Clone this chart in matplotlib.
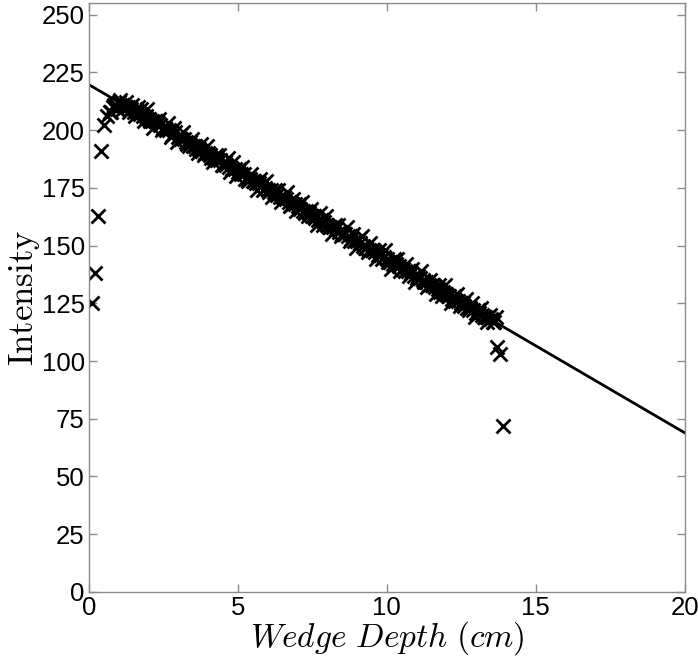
import numpy as np
import matplotlib
matplotlib.use("Agg")
import matplotlib.pyplot as plt

plt.rcParams["mathtext.fontset"] = "cm"
plt.rcParams["font.family"] = "Liberation Sans"

# two passes of measured intensity along the wedge, every 0.1 cm,
# the second pass offset by half a step
depth_start = 0.7
depth_step = 0.1
intensity_a = [
    208, 210, 211, 212, 211, 210, 210, 209, 208, 208,
    207, 206, 206, 205, 204, 204, 203, 202, 201, 200,
    200, 198, 199, 197, 196, 196, 194, 195, 193, 192,
    192, 191, 190, 190, 188, 188, 187, 187, 185, 185,
    184, 183, 183, 182, 181, 181, 179, 179, 178, 177,
    177, 176, 175, 174, 174, 173, 172, 171, 171, 170,
    169, 168, 168, 167, 166, 165, 165, 164, 163, 162,
    161, 161, 160, 159, 158, 158, 157, 156, 155, 155,
    154, 153, 152, 152, 151, 150, 149, 148, 148, 147,
    146, 146, 145, 144, 143, 142, 142, 141, 140, 139,
    139, 138, 137, 136, 136, 135, 134, 133, 133, 132,
    131, 130, 130, 129, 128, 127, 126, 126, 125, 124,
    123, 123, 122, 121, 121, 120, 119, 119, 118, 117,
]
intensity_b = [
    208, 211, 209, 213, 209, 212, 208, 211, 206, 210,
    209, 204, 209, 204, 201, 204, 205, 200, 201, 203,
    197, 201, 195, 198, 199, 195, 193, 196, 193, 190,
    194, 189, 193, 189, 186, 189, 189, 185, 186, 188,
    182, 186, 180, 183, 184, 179, 178, 181, 178, 174,
    179, 174, 178, 173, 171, 174, 174, 169, 171, 173,
    167, 170, 165, 168, 169, 164, 163, 166, 163, 159,
    164, 159, 163, 158, 155, 159, 159, 154, 155, 158,
    152, 155, 149, 153, 154, 149, 147, 151, 148, 144,
    148, 144, 148, 143, 140, 144, 144, 139, 140, 142,
    137, 140, 134, 137, 139, 134, 132, 135, 133, 129,
    133, 128, 133, 128, 125, 128, 129, 124, 125, 127,
    122, 125, 119, 122, 123, 119, 117, 120, 117, 119,
]
depth_a = np.round(depth_start + depth_step * np.arange(len(intensity_a)), 2)
depth_b = np.round(depth_a + depth_step / 2, 2)

# edge points of the wedge (not used in the fit)
edge_depth = [0.1, 0.2, 0.3, 0.4, 0.5, 0.6, 13.7, 13.8, 13.9]
edge_intensity = [125, 138, 163, 191, 202, 206, 106, 103, 72]

all_depth = np.concatenate([depth_a, depth_b])
all_intensity = np.concatenate([intensity_a, intensity_b])
slope, intercept = np.polyfit(all_depth, all_intensity, 1)
fit_x = np.array([0, 20])
fit_y = intercept + slope * fit_x

fig = plt.figure(figsize=(6.98, 6.59), dpi=100)
ax = fig.add_axes([0.1275, 0.1017, 0.8535, 0.8937])

ax.plot(fit_x, fit_y, color="black", lw=2.0)
ax.plot(depth_a, intensity_a, "x", color="black", ms=10, mew=2.0)
ax.plot(depth_b, intensity_b, "x", color="black", ms=10, mew=2.0)
ax.plot(edge_depth, edge_intensity, "x", color="black", ms=10, mew=2.0)

ax.set_xlim(0, 20)
ax.set_ylim(0, 255)
ax.set_xticks(np.arange(0, 21, 5))
ax.set_yticks(np.arange(0, 251, 25))

grey = "#8c8c8c"
for s in ax.spines.values():
    s.set_color(grey)
    s.set_linewidth(1.0)
ax.tick_params(direction="in", length=6, width=1.0, color=grey,
               top=True, right=True, labelsize=18.5, pad=3)

ax.set_xlabel(r"$Wedge\ Depth\ (cm)$", fontsize=24, labelpad=-1)
ax.set_ylabel(r"$\mathrm{Intensity}$", fontsize=25, labelpad=0)

fig.savefig("out.png", dpi=100)
